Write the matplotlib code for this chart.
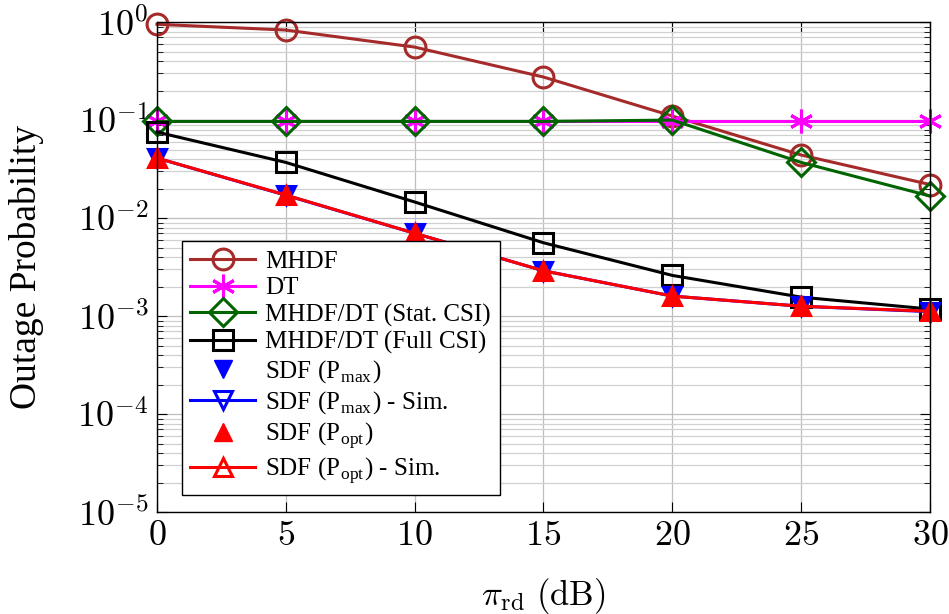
import numpy as np
import matplotlib
matplotlib.use('Agg')
import matplotlib.pyplot as plt
from matplotlib.ticker import FuncFormatter, LogLocator, NullFormatter

plt.rcParams['font.family'] = ['Liberation Serif', 'DejaVu Serif']
plt.rcParams['mathtext.fontset'] = 'cm'

# data
pi_rd = [0, 5, 10, 15, 20, 25, 30]
mhdf = [0.95, 0.83, 0.556, 0.275, 0.11, 0.044, 0.022]
dt = [0.097, 0.097, 0.097, 0.097, 0.097, 0.097, 0.097]
stat_csi = [0.097, 0.097, 0.097, 0.097, 0.1, 0.037, 0.0168]
full_csi = [0.0755, 0.037, 0.0146, 0.0056, 0.0026, 0.00156, 0.00118]
sdf_pmax = [0.040, 0.0170, 0.0069, 0.0029, 0.0016, 0.00125, 0.00111]
sdf_pmax_sim = [0.041, 0.0171, 0.0070, 0.0029, 0.0016, 0.00126, 0.00111]
sdf_popt = [0.041, 0.0172, 0.0070, 0.0029, 0.0016, 0.00126, 0.00112]
sdf_popt_sim = [0.041, 0.0172, 0.0070, 0.0029, 0.0016, 0.00126, 0.00112]

fig = plt.figure(figsize=(9.49, 6.14), dpi=100)
ax = fig.add_axes([0.1654, 0.166, 0.8146, 0.798])

lw = 2.2
kw = dict(clip_on=False)
ax.plot(pi_rd, mhdf, color='#a52a2a', lw=lw, marker='o', ms=15, mfc='none',
        mew=2.2, label='MHDF', **kw)
ax.plot(pi_rd, dt, color='#ff00ff', lw=lw, marker=(6, 2, 0), ms=17,
        mew=2.2, label='DT', **kw)
ax.plot(pi_rd, stat_csi, color='#006400', lw=lw, marker='D', ms=14,
        mfc='none', mew=2.2, label='MHDF/DT (Stat. CSI)', **kw)
ax.plot(pi_rd, full_csi, color='black', lw=lw, marker='s', ms=15,
        mfc='none', mew=2.2, label='MHDF/DT (Full CSI)', **kw)
ax.plot(pi_rd, sdf_pmax, ls='none', color='blue', marker='v', ms=13,
        label=r'SDF (P$_\mathregular{max}$)', **kw)
ax.plot(pi_rd, sdf_pmax_sim, color='blue', lw=lw, marker='v', ms=13,
        mfc='none', mew=2.2, label=r'SDF (P$_\mathregular{max}$) - Sim.', **kw)
ax.plot(pi_rd, sdf_popt, ls='none', color='red', marker='^', ms=13,
        label=r'SDF (P$_\mathregular{opt}$)', **kw)
ax.plot(pi_rd, sdf_popt_sim, color='red', lw=lw, marker='^', ms=13,
        mfc='none', mew=2.2, label=r'SDF (P$_\mathregular{opt}$) - Sim.', **kw)

ax.set_yscale('log')
ax.set_xlim(0, 30)
ax.set_ylim(1e-5, 1)
ax.set_xticks([0, 5, 10, 15, 20, 25, 30])
ax.yaxis.set_major_locator(LogLocator(base=10, numticks=10))
ax.yaxis.set_minor_locator(LogLocator(base=10, subs=np.arange(2, 10), numticks=20))
ax.yaxis.set_minor_formatter(NullFormatter())
ax.yaxis.set_major_formatter(FuncFormatter(lambda v, p: r'$10^{%d}$' % round(np.log10(v))))
ax.xaxis.set_major_formatter(FuncFormatter(lambda v, p: r'$%d$' % v))

ax.grid(True, which='major', color='#bfbfbf', lw=0.9)
ax.grid(True, which='minor', axis='y', color='#d0d0d0', lw=0.9)
ax.set_axisbelow(True)
ax.tick_params(which='both', direction='in', top=True, right=True, labelsize=26)
ax.tick_params(which='major', length=7, pad=6)
ax.tick_params(which='minor', length=4)
for s in ax.spines.values():
    s.set_linewidth(1.0)

ax.set_xlabel(r'$\pi_{\mathrm{rd}}\ \mathrm{(dB)}$', fontsize=25, labelpad=16)
ax.set_ylabel('Outage Probability', fontsize=27, labelpad=24)

leg = ax.legend(loc='lower left', bbox_to_anchor=(0.032, 0.035), fontsize=18,
                handlelength=2.6, labelspacing=0.17, borderpad=0.35,
                handletextpad=0.4, fancybox=False, framealpha=1,
                edgecolor='black', borderaxespad=0)
leg.get_frame().set_linewidth(1.0)

fig.savefig('out.png', dpi=100)
